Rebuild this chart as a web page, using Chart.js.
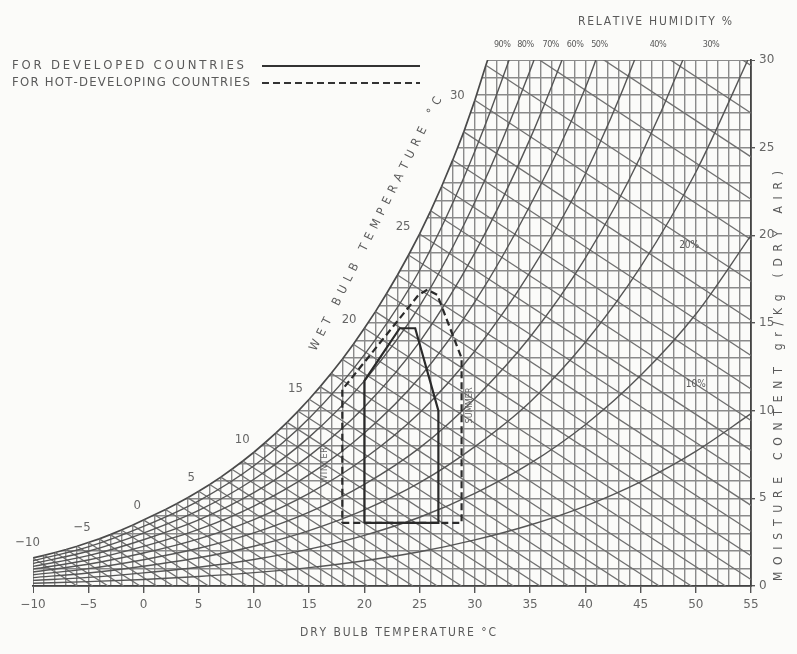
<!DOCTYPE html>
<html>
<head>
<meta charset="utf-8">
<script src="https://cdn.jsdelivr.net/npm/chart.js@4.4.0/dist/chart.umd.min.js"></script>
<style>
  html, body { margin: 0; padding: 0; background: #fbfbf9; }
  #wrap { width: 797px; height: 654px; }
</style>
</head>
<body>
<div id="wrap"><canvas id="chart" width="797" height="654"></canvas></div>
<script>
// saturation line (100%), read every 1 degC, gr/kg
var satTemps = [-10, -9, -8, -7, -6, -5, -4, -3, -2, -1, 0, 1, 2, 3, 4, 5, 6, 7, 8, 9,
    10, 11, 12, 13, 14, 15, 16, 17, 18, 19, 20, 21, 22, 23, 24, 25, 26, 27, 28, 29,
    30, 31, 32, 33, 34, 35];
var satMoisture = [1.60, 1.75, 1.91, 2.08, 2.27, 2.48, 2.69, 2.93, 3.19, 3.47,
    3.77, 4.06, 4.36, 4.69, 5.04, 5.40, 5.79, 6.21, 6.66, 7.13,
    7.63, 8.17, 8.73, 9.33, 9.97, 10.65, 11.37, 12.13, 12.93, 13.79,
    14.70, 15.65, 16.67, 17.74, 18.88, 20.08, 21.40, 22.80, 24.30, 25.90,
    27.70, 29.70, 31.60, 33.60, 35.70, 38.00];
// dry bulb where each wet bulb line reaches 0 gr/kg
var wetBulbEnd = [-6.0, -4.6, -3.2, -1.8, -0.3, 1.2, 2.7, 4.3, 5.9, 7.6,
    9.4, 11.1, 12.8, 14.6, 16.5, 18.4, 20.3, 22.3, 24.4, 26.6,
    28.8, 31.1, 33.5, 35.9, 38.5, 41.1, 43.8, 46.7, 49.6, 52.7,
    55.9, 59.2, 62.6, 66.2, 69.9, 73.8, 77.9, 82.2, 86.8, 91.7,
    97.0, 102.7, 108.2, 114.0, 119.9, 126.4];
var wetBulbLabels = [-10, -5, 0, 5, 10, 15, 20, 25, 30];

// relative humidity curves, every 5 degC
var rhTemps = [-10, -5, 0, 5, 10, 15, 20, 25, 30, 35, 40, 45, 50, 55];
var rh90 = [1.44, 2.23, 3.40, 4.86, 6.86, 9.57, 13.20, 18.01, 24.8, 33.5, 43.7];
var rh80 = [1.28, 1.98, 3.02, 4.31, 6.09, 8.49, 11.70, 15.96, 21.9, 29.4, 38.5];
var rh70 = [1.12, 1.73, 2.64, 3.77, 5.32, 7.42, 10.21, 13.92, 19.0, 25.5, 33.4];
var rh60 = [0.96, 1.48, 2.26, 3.23, 4.56, 6.35, 8.73, 11.89, 16.2, 21.7, 28.4, 37.5];
var rh50 = [0.80, 1.24, 1.88, 2.69, 3.79, 5.28, 7.27, 9.88, 13.4, 17.9, 23.5, 30.9, 40.4];
var rh40 = [0.64, 0.99, 1.50, 2.15, 3.03, 4.21, 5.80, 7.88, 10.7, 14.2, 18.7, 24.5, 31.9, 41.3];
var rh30 = [0.48, 0.74, 1.13, 1.61, 2.27, 3.16, 4.34, 5.89, 7.95, 10.5, 13.9, 18.2, 23.6, 30.4];
var rh20 = [0.32, 0.49, 0.75, 1.07, 1.51, 2.10, 2.89, 3.92, 5.28, 6.99, 9.20, 12.0, 15.5, 20.0];
var rh10 = [0.16, 0.25, 0.37, 0.54, 0.76, 1.05, 1.44, 1.95, 2.63, 3.48, 4.56, 5.94, 7.68, 9.83];
var rhLabels = ['90%', '80%', '70%', '60%', '50%', '40%', '30%'];

// comfort zones
var devZoneT = [20, 26.7, 26.7, 24.6, 23.2, 20, 20];
var devZoneW = [3.6, 3.6, 10.0, 14.7, 14.7, 11.7, 3.6];
var hotZoneT = [18, 28.8, 28.8, 26.6, 25.7, 24.9, 18, 18];
var hotZoneW = [3.6, 3.6, 13.0, 16.6, 16.9, 16.6, 11.2, 3.6];

var BG = '#fbfbf9';
var INK = '#5a5a5a';
var FONT = '"DejaVu Sans Condensed", "DejaVu Sans", sans-serif';

function pts(xs, ys) {
    return ys.map(function(y, i) { return { x: xs[i], y: y }; });
}

var datasets = [];
datasets.push({ data: pts(devZoneT, devZoneW), borderColor: '#2a2a2a', borderWidth: 2.2, order: 0 });
datasets.push({ data: pts(hotZoneT, hotZoneW), borderColor: '#2a2a2a', borderWidth: 2.2, borderDash: [7, 4], order: 0 });

[rh90, rh80, rh70, rh60, rh50, rh40, rh30, rh20, rh10].forEach(function(s) {
    datasets.push({ data: pts(rhTemps, s), borderColor: '#555', borderWidth: 1.4,
        cubicInterpolationMode: 'monotone', order: 1 });
});

satTemps.forEach(function(t, i) {
    datasets.push({ data: [{ x: t, y: satMoisture[i] }, { x: wetBulbEnd[i], y: 0 }],
        borderColor: '#707070', borderWidth: 1.3, order: 2 });
});

// saturation curve, white above it hides the grid
datasets.push({ data: pts(satTemps, satMoisture), borderColor: '#4a4a4a', borderWidth: 1.7,
    fill: 'end', backgroundColor: BG, order: 3 });

function spaced(ctx, text, cx, cy, width, angle, size, color) {
    ctx.save();
    ctx.translate(cx, cy);
    ctx.rotate(angle || 0);
    ctx.font = size + 'px ' + FONT;
    ctx.fillStyle = color || INK;
    ctx.textBaseline = 'middle';
    ctx.textAlign = 'left';
    var chars = text.split('');
    var ws = chars.map(function(c) { return ctx.measureText(c).width; });
    var total = ws.reduce(function(a, b) { return a + b; }, 0);
    var gap = 0;
    if (width && chars.length > 1) gap = (width - total) / (chars.length - 1);
    else width = total;
    var x = -width / 2;
    chars.forEach(function(c, i) { ctx.fillText(c, x, 0); x += ws[i] + gap; });
    ctx.restore();
}

var textPlugin = {
    id: 'psychroText',
    beforeDraw: function(chart) {
        var ctx = chart.ctx;
        ctx.save();
        ctx.fillStyle = BG;
        ctx.fillRect(0, 0, chart.width, chart.height);
        ctx.restore();
    },
    afterDraw: function(chart) {
        var ctx = chart.ctx, sx = chart.scales.x, sy = chart.scales.y;

        // legend
        spaced(ctx, 'FOR DEVELOPED COUNTRIES', 128, 66, 232, 0, 13);
        spaced(ctx, 'FOR HOT-DEVELOPING COUNTRIES', 131, 83, 238, 0, 13);
        ctx.save();
        ctx.strokeStyle = '#333';
        ctx.lineWidth = 2;
        ctx.beginPath(); ctx.moveTo(262, 66); ctx.lineTo(420, 66); ctx.stroke();
        ctx.setLineDash([7, 4]);
        ctx.beginPath(); ctx.moveTo(262, 83); ctx.lineTo(420, 83); ctx.stroke();
        ctx.restore();

        // relative humidity header
        spaced(ctx, 'RELATIVE HUMIDITY %', 655, 22, 154, 0, 12);
        var rhAt = [32.5, 34.6, 36.9, 39.1, 41.3, 46.6, 51.4];
        rhLabels.forEach(function(l, i) {
            spaced(ctx, l, sx.getPixelForValue(rhAt[i]), 45, 17, 0, 9);
        });
        spaced(ctx, '20%', sx.getPixelForValue(49.4), sy.getPixelForValue(19.45), 0, 0, 10);
        spaced(ctx, '10%', sx.getPixelForValue(50.0), sy.getPixelForValue(11.47), 0, 0, 10);

        // wet bulb labels along the saturation line
        ctx.save();
        ctx.font = '13px ' + FONT;
        wetBulbLabels.forEach(function(t) {
            var i = satTemps.indexOf(t);
            var i0 = Math.max(i - 1, 0), i1 = Math.min(i + 1, satTemps.length - 1);
            var px = sx.getPixelForValue(t), py = sy.getPixelForValue(satMoisture[i]);
            var dx = sx.getPixelForValue(satTemps[i1]) - sx.getPixelForValue(satTemps[i0]);
            var dy = sy.getPixelForValue(satMoisture[i1]) - sy.getPixelForValue(satMoisture[i0]);
            var len = Math.sqrt(dx * dx + dy * dy);
            var nx = dy / len, ny = -dx / len;
            var label = t < 0 ? '\u2212' + Math.abs(t) : String(t);
            var hw = ctx.measureText(label).width / 2;
            spaced(ctx, label, px + nx * (11 + hw), py + ny * 16, 0, 0, 13, '#666');
        });
        ctx.restore();

        spaced(ctx, 'WET BULB TEMPERATURE \u00b0C', 376, 224, 282, -1.108, 12);

        // axis titles
        spaced(ctx, 'DRY BULB TEMPERATURE \u00b0C', 398, 633, 196, 0, 12);
        spaced(ctx, 'MOISTURE CONTENT gr/Kg (DRY AIR)', 779, 376, 410, -Math.PI / 2, 12);

        // season notes inside the zones
        spaced(ctx, 'WINTER', sx.getPixelForValue(16.4), sy.getPixelForValue(6.9), 36, -Math.PI / 2, 9, '#666');
        spaced(ctx, 'SUMMER', sx.getPixelForValue(29.5), sy.getPixelForValue(10.3), 36, -Math.PI / 2, 9, '#666');
    }
};

function everyFive(v) { return Math.abs(v % 5) < 1e-6; }
// edge lines stay thin so they do not leak out past the masked corner
function gridWidth(edge) {
    return function(c) { return c.tick && c.tick.value === edge ? 1 : 1.4; };
}

new Chart(document.getElementById('chart'), {
    type: 'line',
    data: { datasets: datasets },
    plugins: [textPlugin],
    options: {
        responsive: false,
        animation: false,
        events: [],
        layout: { padding: { top: 60, left: 33, right: 0, bottom: 0 } },
        elements: { point: { radius: 0 }, line: { tension: 0, fill: false } },
        plugins: { legend: { display: false }, tooltip: { enabled: false } },
        scales: {
            x: {
                type: 'linear', min: -10, max: 55,
                afterFit: function(s) { s.height = 68; },
                ticks: {
                    stepSize: 1, autoSkip: false, maxRotation: 0, padding: 5,
                    color: '#666', font: { family: 'DejaVu Sans', size: 12 },
                    callback: function(v) { return everyFive(v) ? (v < 0 ? '\u2212' + Math.abs(v) : String(v)) : ''; }
                },
                grid: {
                    color: '#8a8a8a', lineWidth: gridWidth(-10), tickLength: 7,
                    tickColor: function(c) { return c.tick && everyFive(c.tick.value) ? '#555' : 'rgba(0,0,0,0)'; }
                },
                border: { color: '#444', width: 1.8 }
            },
            y: {
                type: 'linear', position: 'right', min: 0, max: 30,
                afterFit: function(s) { s.width = 46; },
                ticks: {
                    stepSize: 1, autoSkip: false, padding: 4,
                    color: '#666', font: { family: 'DejaVu Sans', size: 12 },
                    callback: function(v) { return everyFive(v) ? String(v) : ''; }
                },
                grid: {
                    color: '#8a8a8a', lineWidth: gridWidth(30), tickLength: 4,
                    tickColor: function(c) { return c.tick && everyFive(c.tick.value) ? '#555' : 'rgba(0,0,0,0)'; }
                },
                border: { color: '#444', width: 1.8 }
            }
        }
    }
});
</script>
</body>
</html>
